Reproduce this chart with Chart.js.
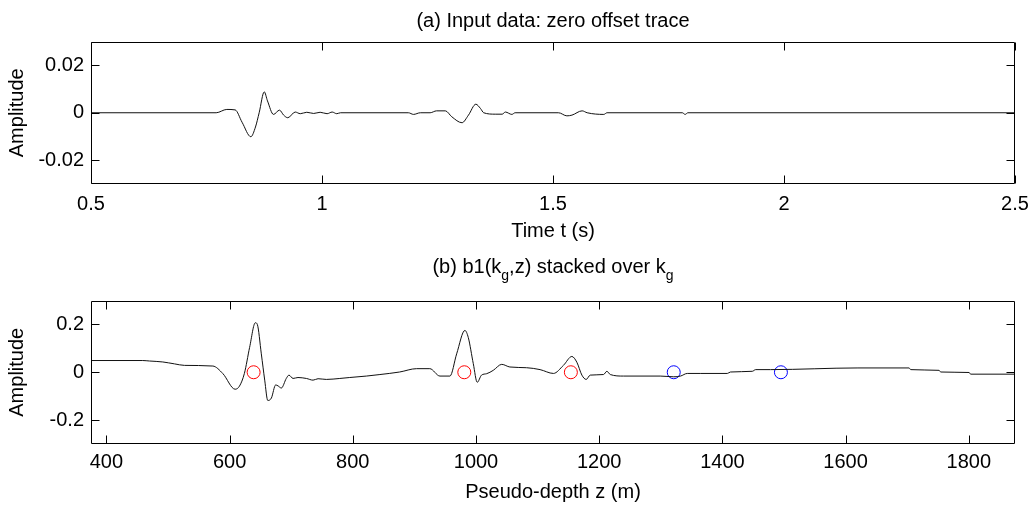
<!DOCTYPE html>
<html><head><meta charset="utf-8">
<script src="https://cdn.jsdelivr.net/npm/chart.js@4.4.1/dist/chart.umd.min.js"></script>
<style>
html,body{margin:0;padding:0;background:#fff;overflow:hidden;}
#wrapA{position:absolute;left:0;top:0;width:1030px;height:245px;}
#wrapB{position:absolute;left:0;top:245px;width:1030px;height:266px;}
</style></head><body>
<div id="wrapA"><canvas id="cA"></canvas></div>
<div id="wrapB"><canvas id="cB"></canvas></div>
<script>
// ---------- Panel (a): zero offset trace ----------
const traceTime = [0.5, 0.771, 0.794, 0.812, 0.827, 0.846, 0.856, 0.864, 0.875, 0.882,
  0.895, 0.908, 0.917, 0.926, 0.942, 0.953, 0.967, 0.982, 0.996, 1.011,
  1.022, 1.032, 1.040, 1.187, 1.198, 1.213, 1.234, 1.248, 1.267, 1.281,
  1.303, 1.317, 1.333, 1.343, 1.350, 1.375, 1.390, 1.397, 1.411, 1.418,
  1.512, 1.530, 1.541, 1.563, 1.574, 1.610, 1.617, 1.780, 1.786, 1.792,
  2.5];
const traceAmp = [0, 0, 0.0014, 0.0012, -0.004, -0.0101, -0.006, 0, 0.0088, 0.005,
  -0.0007, 0.0011, -0.001, -0.0021, 0.0003, -0.0004, 0.0002, -0.0003, 0.0002, -0.0004,
  0.0003, -0.0004, 0, 0, -0.0007, 0, 0, 0.0008, 0.0008, -0.0017,
  -0.0042, -0.001, 0.0036, 0.0018, 0, -0.0006, -0.0006, 0.0003, -0.0007, 0,
  0, -0.0013, -0.001, 0.0008, 0, -0.0007, 0, 0, -0.0007, 0,
  0];
const timeTicks = [0.5, 1, 1.5, 2, 2.5];
const timeTickLabels = ['0.5', '1', '1.5', '2', '2.5'];
const ampTicksA = [-0.02, 0, 0.02];
const ampTickLabelsA = ['-0.02', '0', '0.02'];

// ---------- Panel (b): stacked over kg ----------
const depthZ = [375, 459, 470, 491.5, 510.6, 526.8, 572.8, 589, 609, 616,
  624, 632.5, 641.8, 645, 651.5, 657, 662, 667.8, 674.8, 678.6,
  684, 692, 696.4, 703, 711, 724.7, 735.5, 743.6, 757, 778.9,
  795, 822, 844, 876, 903.6, 925, 941.5, 957.7, 968.6, 982,
  987.5, 995.6, 1002, 1009, 1017.4, 1028, 1041.8, 1055, 1082, 1104,
  1125.7, 1142, 1155.6, 1163.7, 1171.9, 1178.9, 1185.4, 1207, 1212.5, 1218,
  1239.5, 1299, 1321, 1332, 1343, 1364, 1408, 1413, 1448.6, 1454,
  1478, 1620, 1703, 1705.7, 1751.7, 1754.5, 1800.5, 1803, 1875];
const stackAmp = [0.049, 0.049, 0.047, 0.043, 0.035, 0.0287, 0.026, -0.0055, -0.071, -0.058,
  -0.005, 0.104, 0.207, 0.2, 0.077, -0.033, -0.118, -0.108, -0.053, -0.057,
  -0.066, -0.026, -0.012, -0.026, -0.022, -0.026, -0.033, -0.027, -0.030, -0.026,
  -0.022, -0.016, -0.0096, 0.001, 0.015, 0.015, -0.016, -0.016, 0.077, 0.175,
  0.145, 0.036, -0.042, -0.012, -0.006, 0.008, 0.033, 0.022, 0.019, 0.011,
  -0.005, 0.029, 0.066, 0.042, -0.012, -0.030, -0.012, -0.0096, 0.004, -0.0096,
  -0.016, -0.016, -0.019, -0.016, -0.005, -0.005, -0.005, 0.001, 0.004, 0.011,
  0.011, 0.018, 0.018, 0.011, 0.008, 0.001, -0.001, -0.008, -0.008];
const redMarkZ = [639, 981, 1154];
const redMarkAmp = [0, 0, 0];
const blueMarkZ = [1321, 1495];
const blueMarkAmp = [0, 0];
const depthTicks = [400, 600, 800, 1000, 1200, 1400, 1600, 1800];
const depthTickLabels = ['400', '600', '800', '1000', '1200', '1400', '1600', '1800'];
const ampTicksB = [-0.2, 0, 0.2];
const ampTickLabelsB = ['-0.2', '0', '0.2'];

const FONT = '"Liberation Sans", Arial, Helvetica, sans-serif';
const toPts = (xs, ys) => xs.map((x, i) => ({x: x, y: ys[i]}));

// frame + inward ticks on all four sides (MATLAB style)
const framePlugin = {
  id: 'frame',
  afterDatasetsDraw(chart) {
    const {ctx, chartArea: a, scales} = chart;
    const L = Math.round(a.left) + 0.5, R = Math.round(a.right) - 0.5;
    const T = Math.round(a.top) + 0.5, B = Math.round(a.bottom) - 0.5;
    ctx.save();
    ctx.strokeStyle = '#000';
    ctx.lineWidth = 1;
    const tl = 8;
    ctx.beginPath();
    scales.x.ticks.forEach(t => {
      const p = Math.round(scales.x.getPixelForValue(t.value)) + 0.5;
      ctx.moveTo(p, T); ctx.lineTo(p, T + tl);
      ctx.moveTo(p, B); ctx.lineTo(p, B - tl);
    });
    scales.y.ticks.forEach(t => {
      const p = Math.round(scales.y.getPixelForValue(t.value)) + 0.5;
      ctx.moveTo(L, p); ctx.lineTo(L + tl, p);
      ctx.moveTo(R, p); ctx.lineTo(R - tl, p);
    });
    ctx.stroke();
    ctx.beginPath();
    ctx.rect(L, T, R - L, B - T);
    ctx.stroke();
    ctx.restore();
  }
};

// panel title with optional subscripts
const titlePlugin = {
  id: 'panelTitle',
  afterDraw(chart, args, opts) {
    if (!opts || !opts.parts) return;
    const ctx = chart.ctx;
    const a = chart.chartArea;
    ctx.save();
    ctx.fillStyle = '#000';
    ctx.textBaseline = 'alphabetic';
    ctx.textAlign = 'left';
    const main = '20px ' + FONT, sub = '14px ' + FONT;
    let w = 0;
    opts.parts.forEach(p => { ctx.font = p.sub ? sub : main; w += ctx.measureText(p.t).width; });
    let x = (a.left + a.right) / 2 - w / 2;
    opts.parts.forEach(p => {
      ctx.font = p.sub ? sub : main;
      ctx.fillText(p.t, x, opts.y + (p.sub ? 7 : 0));
      x += ctx.measureText(p.t).width;
    });
    ctx.restore();
  }
};
Chart.register(framePlugin, titlePlugin);

function makeLabelCb(vals, labels) {
  return function(v) {
    const i = vals.findIndex(t => Math.abs(t - v) < 1e-9);
    return i >= 0 ? labels[i] : '';
  };
}

function buildOptions(cfg) {
  return {
    responsive: true,
    maintainAspectRatio: false,
    animation: false,
    devicePixelRatio: 1,
    layout: {padding: {top: cfg.padTop, right: 15, left: 0, bottom: 0}},
    plugins: {
      legend: {display: false},
      tooltip: {enabled: false},
      panelTitle: {parts: cfg.titleParts, y: cfg.titleY}
    },
    scales: {
      x: {
        type: 'linear', min: cfg.xmin, max: cfg.xmax,
        grid: {display: false, drawTicks: false},
        border: {display: false},
        afterBuildTicks: s => { s.ticks = cfg.xTicks.map(v => ({value: v})); },
        afterFit: s => { s.height = cfg.xHeight; s.paddingLeft = 0; s.paddingRight = 0; },
        ticks: {
          color: '#000', font: {family: FONT, size: 20}, padding: cfg.xTickPad,
          maxRotation: 0, autoSkip: false,
          callback: makeLabelCb(cfg.xTicks, cfg.xTickLabels)
        },
        title: {display: true, text: cfg.xTitle, color: '#000',
          font: {family: FONT, size: 20}, padding: {top: 0, bottom: cfg.xTitlePad}}
      },
      y: {
        type: 'linear', min: cfg.ymin, max: cfg.ymax,
        grid: {display: false, drawTicks: false},
        border: {display: false},
        afterBuildTicks: s => { s.ticks = cfg.yTicks.map(v => ({value: v})); },
        afterFit: s => { s.width = 91; s.paddingTop = 0; s.paddingBottom = 0; },
        ticks: {
          color: '#000', font: {family: FONT, size: 20}, padding: 7, autoSkip: false,
          callback: makeLabelCb(cfg.yTicks, cfg.yTickLabels)
        },
        title: {display: true, text: 'Amplitude', color: '#000',
          font: {family: FONT, size: 20}, padding: {top: 5.5, bottom: 0}}
      }
    }
  };
}

const lineStyle = {borderColor: '#111', borderWidth: 1, pointRadius: 0, fill: false,
  cubicInterpolationMode: 'monotone'};

new Chart(document.getElementById('cA'), {
  type: 'line',
  data: {datasets: [Object.assign({label: 'trace', data: toPts(traceTime, traceAmp)}, lineStyle)]},
  options: buildOptions({
    padTop: 41.5, xHeight: 61, xTickPad: 8, xTitlePad: 2,
    xmin: 0.5, xmax: 2.5, ymin: -0.03, ymax: 0.03,
    xTicks: timeTicks, xTickLabels: timeTickLabels,
    yTicks: ampTicksA, yTickLabels: ampTickLabelsA,
    xTitle: 'Time t (s)',
    titleParts: [{t: '(a) Input data: zero offset trace'}], titleY: 26.5
  })
});

new Chart(document.getElementById('cB'), {
  type: 'line',
  data: {datasets: [
    Object.assign({label: 'stack', data: toPts(depthZ, stackAmp)}, lineStyle),
    {label: 'red', data: toPts(redMarkZ, redMarkAmp), showLine: false, pointRadius: 6.5,
      pointBorderColor: '#ff0000', pointBackgroundColor: 'rgba(0,0,0,0)', pointBorderWidth: 1},
    {label: 'blue', data: toPts(blueMarkZ, blueMarkAmp), showLine: false, pointRadius: 6.5,
      pointBorderColor: '#0000ff', pointBackgroundColor: 'rgba(0,0,0,0)', pointBorderWidth: 1}
  ]},
  options: buildOptions({
    padTop: 55.5, xHeight: 67, xTickPad: 6, xTitlePad: 7,
    xmin: 375, xmax: 1875, ymin: -0.3, ymax: 0.3,
    xTicks: depthTicks, xTickLabels: depthTickLabels,
    yTicks: ampTicksB, yTickLabels: ampTickLabelsB,
    xTitle: 'Pseudo-depth z (m)',
    titleParts: [{t: '(b) b1(k'}, {t: 'g', sub: true}, {t: ',z) stacked over k'}, {t: 'g', sub: true}],
    titleY: 28
  })
});
</script></body></html>
